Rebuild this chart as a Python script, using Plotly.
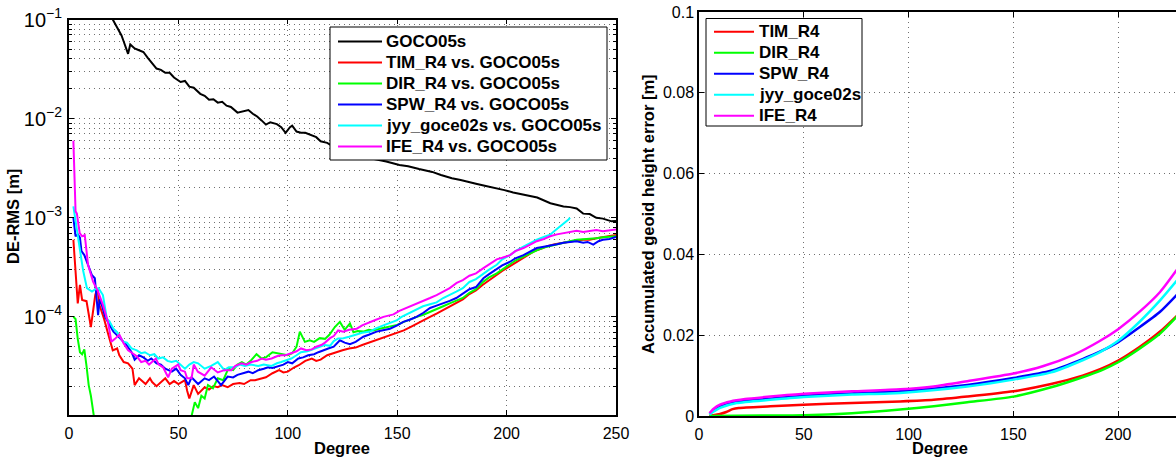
import plotly.graph_objects as go

FONT = "Liberation Sans, Arial, Helvetica, sans-serif"

# ---------------------------------------------------------------
# Degree-wise RMS of the models (left panel), (degree, metres)
# ---------------------------------------------------------------
goco05s = [
    (18, 0.115), (20, 0.1), (22, 0.083), (24, 0.069), (25, 0.06), (27, 0.045),
    (28, 0.056), (30, 0.051), (32, 0.049), (34, 0.047), (36, 0.041), (38, 0.036),
    (40, 0.032), (42, 0.031), (44, 0.029), (46, 0.029), (48, 0.026), (51, 0.0234),
    (53, 0.024), (55, 0.021), (57, 0.0205), (60, 0.0178), (62, 0.017), (64, 0.0155),
    (66, 0.0157), (68, 0.0145), (70, 0.0148), (72, 0.0135), (74, 0.0131), (77, 0.0115),
    (79, 0.0118), (82, 0.0122), (84, 0.0112), (86, 0.0105), (88, 0.0096), (90, 0.0087),
    (92, 0.0092), (95, 0.0088), (97, 0.0082), (99, 0.0072), (101, 0.0082), (102, 0.0085),
    (104, 0.0074), (106, 0.0072), (108, 0.0072), (111, 0.0067), (113, 0.0065),
    (115, 0.0059), (118, 0.0057), (121, 0.0052), (125, 0.0048), (130, 0.0044),
    (135, 0.0041), (140, 0.0039), (145, 0.0037), (151, 0.0034), (155, 0.0033),
    (160, 0.0031), (166, 0.0029), (170, 0.0027), (175, 0.0025), (179, 0.0024),
    (182, 0.0023), (186, 0.0022), (190, 0.0021), (195, 0.0020), (199, 0.0019),
    (203, 0.0018), (208, 0.0017), (214, 0.0016), (220, 0.0014), (226, 0.0013),
    (229, 0.00128), (232, 0.00124), (235, 0.0011), (238, 0.00109), (241, 0.001),
    (244, 0.00098), (248, 0.00092), (250, 0.00093),
]

tim_vs_goco = [
    (2, 6e-4), (3, 2.5e-4), (4, 1.37e-4), (5, 2.1e-4), (6, 1.48e-4), (8, 1.44e-4),
    (10, 7.9e-5), (12, 1.66e-4), (13, 1.95e-4), (14, 1.3e-4), (16, 9.6e-5), (18, 6.6e-5),
    (19, 5.5e-5), (20, 4.6e-5), (22, 4.8e-5), (23, 4.1e-5), (25, 3.5e-5), (27, 3.4e-5),
    (29, 3.0e-5), (30, 2.05e-5), (32, 2.4e-5), (33, 2.3e-5), (35, 2.1e-5), (37, 2.4e-5),
    (38, 2.2e-5), (40, 2.0e-5), (42, 2.2e-5), (44, 2.4e-5), (46, 2.1e-5), (48, 2.25e-5),
    (50, 2.1e-5), (53, 2.3e-5), (54, 1.8e-5), (55, 1.5e-5), (57, 2.05e-5), (59, 1.67e-5),
    (62, 1.95e-5), (64, 1.85e-5), (66, 2.0e-5), (68, 1.95e-5), (70, 2.05e-5),
    (72.5, 1.95e-5), (75, 2.1e-5), (78, 2.15e-5), (80, 2.1e-5), (83, 2.3e-5),
    (85, 2.3e-5), (88, 2.4e-5), (90, 2.46e-5), (93, 2.7e-5), (96, 2.9e-5), (98, 2.75e-5),
    (100, 2.8e-5), (103, 3.1e-5), (105, 3.25e-5), (108, 3.6e-5), (111, 3.8e-5),
    (113, 3.6e-5), (115, 3.7e-5), (118, 4.1e-5), (120, 4.25e-5), (122, 4.4e-5),
    (125, 4.6e-5), (128, 4.8e-5), (131, 4.9e-5), (134, 5.2e-5), (137, 5.5e-5),
    (140, 5.8e-5), (143, 6.1e-5), (147, 6.6e-5), (150, 6.9e-5), (153, 7.3e-5),
    (156, 7.9e-5), (159, 8.6e-5), (162, 9.2e-5), (165, 1.0e-4), (168, 1.08e-4),
    (171, 1.17e-4), (174, 1.27e-4), (177, 1.37e-4), (180, 1.5e-4), (183, 1.7e-4),
    (186, 1.85e-4), (189, 2.1e-4), (192, 2.35e-4), (195, 2.6e-4), (198, 2.9e-4),
    (201, 3.2e-4), (204, 3.5e-4), (207, 3.9e-4), (210, 4.25e-4), (213, 4.65e-4),
    (216, 4.9e-4), (219, 5.2e-4), (222, 5.4e-4), (226, 5.6e-4), (229, 5.8e-4),
    (232, 5.9e-4), (235, 6.0e-4), (238, 6.0e-4), (241, 6.2e-4), (244, 6.35e-4),
    (247, 6.5e-4), (250, 6.7e-4),
]

dir_vs_goco = [
    (2, 1.0e-4), (3, 9.5e-5), (4, 6.0e-5), (5, 4.4e-5), (6, 4.2e-5), (7, 4.7e-5),
    (8, 3.2e-5), (9, 2.05e-5), (10, 1.6e-5), (11, 1.05e-5), (12, 8e-6),
    (55, 8e-6), (56, 1.0e-5), (57.5, 1.38e-5), (59, 1.2e-5), (60.5, 1.6e-5),
    (62, 1.5e-5), (63.5, 2.05e-5), (65.8, 1.9e-5), (68, 2.4e-5), (70.5, 2.3e-5),
    (72.8, 3.0e-5), (75, 2.9e-5), (77, 3.3e-5), (79, 3.5e-5), (81, 3.3e-5),
    (83, 3.6e-5), (85.7, 4.2e-5), (88, 3.8e-5), (90, 3.9e-5), (93, 4.4e-5),
    (97, 4.2e-5), (100, 4.1e-5), (102, 4.3e-5), (104, 5.0e-5), (105.5, 7.1e-5),
    (107.8, 5.6e-5), (110, 5.8e-5), (112, 5.6e-5), (114.6, 6.1e-5), (117, 6.0e-5),
    (119, 6.6e-5), (121.5, 7.9e-5), (123.8, 8.9e-5), (126, 7.4e-5), (128.4, 8.6e-5),
    (130, 7.0e-5), (132, 7.2e-5), (134.5, 7.1e-5), (137, 7.4e-5), (139, 7.3e-5),
    (142, 7.6e-5), (145, 7.9e-5), (147, 8.0e-5), (150, 8.3e-5), (153, 8.9e-5),
    (156, 9.5e-5), (159, 1.0e-4), (162, 1.05e-4), (165, 1.12e-4), (168, 1.18e-4),
    (171, 1.28e-4), (174, 1.37e-4), (177, 1.45e-4), (180, 1.55e-4), (183, 1.75e-4),
    (186, 1.9e-4), (189.4, 2.27e-4), (192, 2.5e-4), (195.5, 2.75e-4), (198, 3.0e-4),
    (201.6, 3.35e-4), (204, 3.7e-4), (207.7, 4.05e-4), (211, 4.4e-4), (213.8, 4.7e-4),
    (217, 5.0e-4), (219.9, 5.2e-4), (223, 5.4e-4), (226, 5.6e-4), (229, 5.8e-4),
    (232, 6.0e-4), (235, 6.05e-4), (238, 6.1e-4), (241, 6.2e-4), (244, 6.35e-4),
    (247, 6.4e-4), (250, 6.5e-4),
]

spw_vs_goco = [
    (2, 1.0e-3), (3, 6.5e-4), (4, 6.8e-4), (5, 6.3e-4), (5.7, 4.6e-4), (7, 4.2e-4),
    (8.7, 3.35e-4), (10.4, 2.65e-4), (11.8, 2.45e-4), (13.3, 1.04e-4), (14, 1.5e-4),
    (15, 1.32e-4), (16.5, 1.0e-4), (18, 8.8e-5), (20.3, 7.1e-5), (22, 6.5e-5),
    (24, 5.9e-5), (26, 5.3e-5), (28.6, 4.4e-5), (30, 3.7e-5), (32, 4.1e-5),
    (34, 3.9e-5), (36, 3.6e-5), (37.6, 3.8e-5), (40, 3.4e-5), (42, 3.3e-5),
    (44, 3.0e-5), (47, 2.8e-5), (49, 3.0e-5), (51, 2.6e-5), (53, 2.4e-5),
    (54.5, 2.05e-5), (56, 2.46e-5), (59, 2.1e-5), (62, 2.4e-5), (64, 2.3e-5),
    (66.3, 2.5e-5), (69.5, 2.05e-5), (72.5, 2.5e-5), (75, 2.45e-5), (77, 2.6e-5),
    (80, 2.7e-5), (82, 2.8e-5), (84, 2.7e-5), (86.5, 2.9e-5), (89, 3.0e-5),
    (91, 3.1e-5), (93, 3.05e-5), (95.7, 3.2e-5), (98, 3.3e-5), (100, 3.5e-5),
    (102, 3.4e-5), (104.8, 3.8e-5), (107, 3.9e-5), (109.3, 4.1e-5), (112, 4.2e-5),
    (114, 4.4e-5), (116, 4.6e-5), (118.5, 4.8e-5), (121, 5.0e-5), (123.8, 5.8e-5),
    (126, 5.5e-5), (128.4, 5.3e-5), (131, 5.6e-5), (134.5, 6.3e-5), (137, 6.6e-5),
    (140.6, 7.1e-5), (143, 7.3e-5), (146.7, 7.6e-5), (150, 8.2e-5), (152.8, 8.9e-5),
    (156, 9.4e-5), (158.8, 1.0e-4), (162, 1.1e-4), (165, 1.23e-4), (168, 1.3e-4),
    (171, 1.37e-4), (174, 1.45e-4), (177, 1.55e-4), (180, 1.7e-4), (183, 1.9e-4),
    (186, 2.0e-4), (189.4, 2.45e-4), (192, 2.7e-4), (195.5, 3.0e-4), (198, 3.3e-4),
    (201.6, 3.6e-4), (204, 3.9e-4), (207.7, 4.2e-4), (211, 4.6e-4), (213.8, 4.95e-4),
    (217, 5.1e-4), (219.9, 5.2e-4), (223, 5.4e-4), (226, 5.6e-4), (229, 5.7e-4),
    (232, 5.8e-4), (235, 5.6e-4), (237, 5.7e-4), (239.6, 5.35e-4), (242, 5.8e-4),
    (244, 6.0e-4), (247, 6.1e-4), (250, 6.4e-4),
]

jyy_vs_goco = [
    (2, 1.3e-3), (3, 9.0e-4), (3.6, 7.3e-4), (4.9, 4.9e-4), (6.5, 2.9e-4),
    (8.2, 1.95e-4), (10.5, 1.8e-4), (12, 1.9e-4), (13.5, 1.95e-4), (15.5, 1.66e-4),
    (17.3, 9.6e-5), (18.5, 9.0e-5), (20.3, 7.6e-5), (22, 7.0e-5), (24.8, 5.6e-5),
    (26.5, 5.5e-5), (28.6, 4.8e-5), (31, 4.6e-5), (33, 4.3e-5), (34.7, 4.4e-5),
    (37, 4.1e-5), (39, 4.2e-5), (40.8, 3.8e-5), (43, 3.9e-5), (45, 3.6e-5),
    (46.9, 3.5e-5), (49, 3.6e-5), (51, 3.3e-5), (53, 3.0e-5), (55, 3.3e-5),
    (57, 3.5e-5), (59, 3.4e-5), (62, 3.0e-5), (65, 3.2e-5), (68, 3.5e-5),
    (71, 2.9e-5), (73, 3.1e-5), (75.7, 3.1e-5), (78, 3.3e-5), (80.4, 3.2e-5),
    (83, 3.3e-5), (86.5, 3.2e-5), (89, 3.3e-5), (92.6, 3.2e-5), (95, 3.4e-5),
    (97, 3.5e-5), (99, 3.6e-5), (101.6, 3.8e-5), (104, 4.1e-5), (106, 4.4e-5),
    (109, 4.5e-5), (112.3, 4.8e-5), (114.5, 5.0e-5), (116.8, 5.2e-5), (119.3, 5.1e-5),
    (121, 5.7e-5), (123, 6.05e-5), (125.4, 6.1e-5), (128, 6.3e-5), (131.5, 6.6e-5),
    (134, 6.9e-5), (137.6, 7.1e-5), (140, 7.6e-5), (143.7, 8.2e-5), (146, 8.6e-5),
    (149.7, 9.2e-5), (152, 1.0e-4), (155.8, 1.1e-4), (158, 1.18e-4), (161.8, 1.28e-4),
    (165, 1.34e-4), (168, 1.4e-4), (171, 1.55e-4), (174, 1.66e-4), (177, 1.8e-4),
    (180, 1.95e-4), (183, 2.25e-4), (186, 2.4e-4), (189.4, 2.75e-4), (192, 3.0e-4),
    (195.5, 3.35e-4), (198, 3.8e-4), (201.6, 4.2e-4), (204, 4.6e-4), (207.7, 5.1e-4),
    (211, 5.6e-4), (213.8, 6.0e-4), (217, 6.4e-4), (219.9, 6.75e-4), (222, 7.4e-4),
    (224.5, 8.2e-4), (226.5, 8.8e-4), (228.3, 9.6e-4), (229, 1.0e-3),
]

ife_vs_goco = [
    (2, 6.0e-3), (3, 1.16e-3), (3.6, 1.1e-3), (4.9, 7.0e-4), (6, 6.5e-4), (7.2, 6.7e-4),
    (8.7, 3.35e-4), (10, 2.6e-4), (11, 2.27e-4), (13.3, 1.8e-4), (15.5, 1.32e-4),
    (17.8, 8.9e-5), (19.4, 5.6e-5), (21, 6.0e-5), (23, 6.6e-5), (25, 5.4e-5),
    (27, 4.6e-5), (29, 4.3e-5), (31, 4.0e-5), (33, 3.5e-5), (35, 3.6e-5),
    (36.6, 3.3e-5), (38, 3.5e-5), (39.7, 3.8e-5), (41, 3.3e-5), (43, 3.1e-5),
    (45.3, 2.46e-5), (47, 3.0e-5), (49.9, 3.3e-5), (51, 2.9e-5), (53, 2.8e-5),
    (54, 2.4e-5), (56, 2.4e-5), (57, 3.3e-5), (58.9, 2.8e-5), (62, 2.55e-5),
    (65, 3.1e-5), (68, 2.75e-5), (71, 2.9e-5), (74.2, 2.9e-5), (76, 3.2e-5),
    (78.9, 3.4e-5), (81, 3.3e-5), (83.4, 3.5e-5), (86, 3.6e-5), (88, 3.8e-5),
    (90, 3.7e-5), (92.6, 3.8e-5), (95, 4.0e-5), (97, 4.1e-5), (99, 4.1e-5),
    (101.6, 4.3e-5), (104, 4.5e-5), (106, 4.8e-5), (108.5, 4.6e-5), (111, 4.7e-5),
    (113, 5.0e-5), (115.3, 5.2e-5), (117, 5.5e-5), (119.3, 6.1e-5), (121, 6.4e-5),
    (123, 7.3e-5), (125.4, 7.1e-5), (128, 7.4e-5), (131.5, 7.6e-5), (134, 8.2e-5),
    (137.6, 8.9e-5), (140, 9.3e-5), (143.7, 1.0e-4), (146, 1.03e-4), (148.3, 1.06e-4),
    (151, 1.15e-4), (154.3, 1.23e-4), (156.5, 1.3e-4), (158.8, 1.37e-4), (162, 1.45e-4),
    (165, 1.55e-4), (168, 1.66e-4), (171, 1.8e-4), (174, 1.95e-4), (177.2, 2.2e-4),
    (180, 2.35e-4), (183, 2.6e-4), (186, 2.75e-4), (189.4, 3.1e-4), (192, 3.4e-4),
    (195.5, 3.8e-4), (198, 3.95e-4), (201.6, 4.2e-4), (204, 4.6e-4), (207.7, 4.95e-4),
    (211, 5.4e-4), (213.8, 5.8e-4), (217, 6.1e-4), (219.9, 6.5e-4), (223, 6.8e-4),
    (226, 7.0e-4), (229, 7.2e-4), (232, 7.4e-4), (235, 7.2e-4), (238, 7.3e-4),
    (241, 7.5e-4), (244, 7.3e-4), (247, 7.4e-4), (250, 7.6e-4),
]

# ---------------------------------------------------------------
# Accumulated geoid height error (right panel), (degree, metres)
# ---------------------------------------------------------------
acc_tim = [
    (5, 0.0), (8, 0.0003), (10, 0.0005), (13, 0.001), (16, 0.0017), (19, 0.002),
    (34, 0.0024), (50, 0.0028), (73, 0.0032), (96, 0.0036), (112, 0.004),
    (128, 0.0048), (150, 0.0061), (168, 0.0079), (183, 0.0100), (192, 0.0117),
    (200, 0.0137), (210, 0.0170), (220, 0.0209), (228, 0.0248),
]
acc_dir = [
    (5, 0.0), (30, 0.0001), (50, 0.0002), (73, 0.0007), (96, 0.0016), (112, 0.0024),
    (128, 0.0034), (150, 0.0048), (168, 0.0071), (183, 0.0096), (192, 0.0113),
    (200, 0.0133), (210, 0.0166), (220, 0.0204), (228, 0.0246),
]
acc_spw = [
    (5, 0.0005), (7, 0.0013), (10, 0.0023), (18, 0.0035), (34, 0.0043), (50, 0.005),
    (73, 0.0056), (96, 0.0061), (128, 0.0077), (150, 0.0094), (168, 0.0112),
    (183, 0.0141), (192, 0.0161), (200, 0.0183), (210, 0.0219), (220, 0.0258),
    (228, 0.0300),
]
acc_jyy = [
    (5, 0.0004), (7, 0.0011), (10, 0.002), (18, 0.0032), (34, 0.004), (50, 0.0047),
    (73, 0.0053), (96, 0.0057), (128, 0.0073), (150, 0.009), (168, 0.0108),
    (183, 0.0138), (192, 0.0160), (200, 0.0186), (210, 0.0232), (220, 0.0286),
    (228, 0.0335),
]
acc_ife = [
    (5, 0.0007), (7, 0.0018), (10, 0.0028), (15, 0.0036), (22, 0.0042), (34, 0.0048),
    (50, 0.0055), (73, 0.0061), (96, 0.0066), (112, 0.0073), (128, 0.0086),
    (150, 0.0105), (164, 0.0123), (179, 0.0152), (191, 0.0185), (200, 0.0215),
    (210, 0.0257), (220, 0.0307), (228, 0.0362),
]

left_series = [
    ("GOCO05s", goco05s, "#000000"),
    ("TIM_R4 vs. GOCO05s", tim_vs_goco, "#ff0000"),
    ("DIR_R4 vs. GOCO05s", dir_vs_goco, "#00ff00"),
    ("SPW_R4 vs. GOCO05s", spw_vs_goco, "#0000ff"),
    ("jyy_goce02s vs. GOCO05s", jyy_vs_goco, "#00ffff"),
    ("IFE_R4 vs. GOCO05s", ife_vs_goco, "#ff00ff"),
]
right_series = [
    ("TIM_R4", acc_tim, "#ff0000"),
    ("DIR_R4", acc_dir, "#00ff00"),
    ("SPW_R4", acc_spw, "#0000ff"),
    ("jyy_goce02s", acc_jyy, "#00ffff"),
    ("IFE_R4", acc_ife, "#ff00ff"),
]

W, H = 1176, 459

fig = go.Figure()
for name, pts, color in left_series:
    fig.add_trace(go.Scatter(
        x=[p[0] for p in pts], y=[p[1] for p in pts], name=name, mode="lines",
        line=dict(color=color, width=2), xaxis="x", yaxis="y", showlegend=False,
    ))
for name, pts, color in right_series:
    fig.add_trace(go.Scatter(
        x=[p[0] for p in pts], y=[p[1] for p in pts], name=name, mode="lines",
        line=dict(color=color, width=2.5, shape="spline", smoothing=0.6),
        xaxis="x2", yaxis="y2", showlegend=False,
    ))

GRID = dict(showgrid=True, gridcolor="#707070", griddash="1px,4px", gridwidth=1)
AXIS = dict(
    showline=True, linecolor="black", linewidth=1.5, ticks="inside", ticklen=5,
    tickcolor="black", tickfont=dict(family=FONT, size=16, color="black"),
    zeroline=False, automargin=False, **GRID,
)

shapes = []
annotations = []


def px_x(v):
    return v / W


def px_y(v):
    return 1 - v / H


def add_legend(series, box, line_x, text_x, first_y, step):
    """Boxed key in the MATLAB style: coloured sample line + bold name."""
    x0, y0, x1, y1 = box
    shapes.append(dict(type="rect", xref="paper", yref="paper",
                       x0=px_x(x0), x1=px_x(x1), y0=px_y(y1), y1=px_y(y0),
                       line=dict(color="black", width=1), fillcolor="white",
                       layer="above"))
    for i, (name, _, color) in enumerate(series):
        yc = first_y + i * step
        shapes.append(dict(type="line", xref="paper", yref="paper",
                           x0=px_x(line_x[0]), x1=px_x(line_x[1]),
                           y0=px_y(yc), y1=px_y(yc),
                           line=dict(color=color, width=2), layer="above"))
        annotations.append(dict(text=name, x=px_x(text_x), y=px_y(yc),
                                xref="paper", yref="paper", xanchor="left",
                                yanchor="middle", showarrow=False,
                                font=dict(family=FONT, size=17, color="black",
                                          weight="bold")))


add_legend(left_series, (330, 27, 607, 160), (338, 382), 384, 41.5, 21)
add_legend(right_series, (706, 18.5, 862, 126), (714, 754), 757, 31.7, 21)

TITLE_FONT = dict(family=FONT, size=16.5, color="black")
annotations += [
    dict(text="<b>DE-RMS [m]</b>", x=px_x(13), y=px_y(217), textangle=-90),
    dict(text="<b>Degree</b>", x=px_x(342), y=px_y(448)),
    dict(text="<b>Accumulated geoid height error [m]</b>", x=px_x(648),
         y=px_y(214), textangle=-90),
    dict(text="<b>Degree</b>", x=px_x(940), y=px_y(448)),
]
for a in annotations[-4:]:
    a.update(xref="paper", yref="paper", xanchor="center", yanchor="middle",
             showarrow=False, font=TITLE_FONT)

fig.update_layout(
    width=W, height=H, autosize=False,
    margin=dict(l=0, r=0, t=0, b=0, pad=0),
    paper_bgcolor="white", plot_bgcolor="white",
    showlegend=False,
    xaxis=dict(domain=[69 / W, 616 / W], range=[0, 250], dtick=50, mirror="ticks",
               anchor="y", ticklabelstandoff=3, **AXIS),
    yaxis=dict(domain=[44 / H, 439.5 / H], type="log", range=[-4.99, -1], dtick=1,
               exponentformat="power", mirror="ticks", anchor="x",
               ticklabelstandoff=2,
               minor=dict(dtick="D1", ticks="inside", ticklen=3, tickcolor="black",
                          **GRID),
               **AXIS),
    xaxis2=dict(domain=[699 / W, 1.0], range=[0, 227.6], dtick=50, mirror="ticks",
                anchor="y2", ticklabelstandoff=3, **AXIS),
    yaxis2=dict(domain=[43 / H, 447 / H], range=[0, 0.1], dtick=0.02, mirror=False,
                anchor="x2", **AXIS),
    shapes=shapes,
    annotations=annotations,
)

fig.write_html("out.html")
